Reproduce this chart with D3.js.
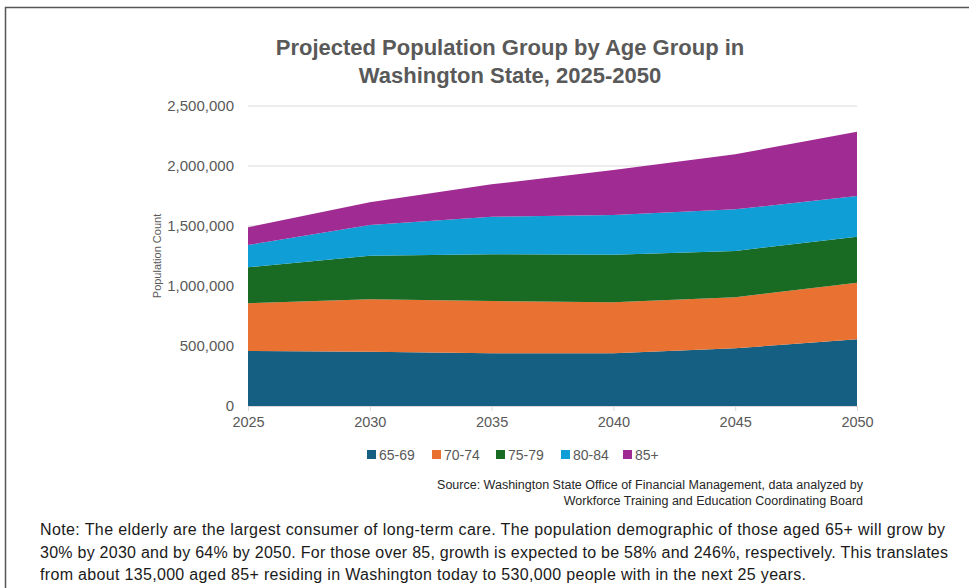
<!DOCTYPE html>
<html>
<head>
<meta charset="utf-8">
<script src="https://cdn.jsdelivr.net/npm/d3@7"></script>
<style>
  body { margin: 0; background: #fff; }
  text { font-family: "Liberation Sans", Arial, sans-serif; }
</style>
</head>
<body>
<div id="container"></div>
<script>
let w = 969;
let h = 588;

// data
let years = [2025, 2030, 2035, 2040, 2045, 2050];
let groups = ["65-69", "70-74", "75-79", "80-84", "85+"];
let age65to69 = [458000, 453000, 439000, 439000, 481000, 556000];
let age70to74 = [398000, 436000, 436000, 425000, 425000, 472000];
let age75to79 = [300000, 364000, 389000, 397000, 386000, 383000];
let age80to84 = [186000, 255000, 314000, 331000, 347000, 339000];
let age85plus = [147000, 189000, 269000, 375000, 458000, 536000];
let yTicks = [0, 500000, 1000000, 1500000, 2000000, 2500000];
let colors = ["#156082", "#e97132", "#196b24", "#0f9ed5", "#a02b93"];

let noteLines = [
  "Note: The elderly are the largest consumer of long-term care. The population demographic of those aged 65+ will grow by",
  "30% by 2030 and by 64% by 2050. For those over 85, growth is expected to be 58% and 246%, respectively. This translates",
  "from about 135,000 aged 85+ residing in Washington today to 530,000 people with in the next 25 years."
];
// widths the note lines take up in the picture
let noteWidths = [905, 908, 766];

// build table rows for the stack
let series = [age65to69, age70to74, age75to79, age80to84, age85plus];
let rows = years.map(function(yr, i){
  let row = {year: yr};
  groups.forEach(function(g, j){ row[g] = series[j][i]; });
  return row;
});

let viz = d3.select("#container")
  .append("svg")
    .attr("width", w)
    .attr("height", h)
    .style("display", "block")
;

// frame around the chart (only top + left visible in the crop)
viz.append("path")
  .attr("d", "M5.5," + h + " L5.5,7.5 L" + w + ",7.5")
  .attr("fill", "none")
  .attr("stroke", "#555")
  .attr("stroke-width", 1.5);

let xScale = d3.scaleLinear().domain([2025, 2050]).range([248, 857]);
let yScale = d3.scaleLinear().domain([0, 2500000]).range([406, 106]);

// gridlines
viz.append("g").selectAll("line").data(yTicks).enter().append("line")
  .attr("x1", 248).attr("x2", 857)
  .attr("y1", d => yScale(d)).attr("y2", d => yScale(d))
  .attr("stroke", "#d9d9d9").attr("stroke-width", 1);

// stacked areas
let stack = d3.stack().keys(groups);
let layers = stack(rows);
let area = d3.area()
  .x(d => xScale(d.data.year))
  .y0(d => yScale(d[0]))
  .y1(d => yScale(d[1]));

viz.append("g").selectAll("path").data(layers).enter().append("path")
  .attr("d", area)
  .attr("fill", (d, i) => colors[i]);

// x axis
let xAxis = d3.axisBottom(xScale).tickValues(years).tickFormat(d3.format("d")).tickSize(5).tickPadding(6);
let xAxisGroup = viz.append("g").attr("transform", "translate(0,406)").call(xAxis);
xAxisGroup.select(".domain").attr("stroke", "#d9d9d9");
xAxisGroup.selectAll(".tick line").attr("stroke", "#d9d9d9");
xAxisGroup.selectAll("text").attr("fill", "#595959").style("font-size", "14.5px");

// y axis
let yAxis = d3.axisLeft(yScale).tickValues(yTicks).tickFormat(d3.format(",")).tickSize(0).tickPadding(14);
let yAxisGroup = viz.append("g").attr("transform", "translate(248,0)").call(yAxis);
yAxisGroup.select(".domain").remove();
yAxisGroup.selectAll("text").attr("fill", "#595959").style("font-size", "15px");

// axis title
viz.append("text")
  .attr("transform", "translate(161,256) rotate(-90)")
  .attr("text-anchor", "middle")
  .attr("fill", "#595959")
  .style("font-size", "11px")
  .text("Population Count");

// title
let titleLines = ["Projected Population Group by Age Group in", "Washington State, 2025-2050"];
viz.append("g").selectAll("text").data(titleLines).enter().append("text")
  .attr("x", 510)
  .attr("y", (d, i) => 55 + i * 28)
  .attr("text-anchor", "middle")
  .attr("fill", "#595959")
  .style("font-size", "22px")
  .style("font-weight", "bold")
  .text(d => d);

// legend
let legendX = [367, 432, 496, 561, 623];
let legend = viz.append("g").selectAll("g").data(groups).enter().append("g")
  .attr("transform", (d, i) => "translate(" + legendX[i] + ",455)");
legend.append("rect")
  .attr("x", 0).attr("y", -5)
  .attr("width", 9).attr("height", 9)
  .attr("fill", (d, i) => colors[i]);
legend.append("text")
  .attr("x", 12).attr("y", 5)
  .attr("fill", "#595959")
  .style("font-size", "14px")
  .text(d => d);

// source
let sourceLines = ["Source: Washington State Office of Financial Management, data analyzed by",
  "Workforce Training and Education Coordinating Board"];
viz.append("g").selectAll("text").data(sourceLines).enter().append("text")
  .attr("x", 863)
  .attr("y", (d, i) => 489 + i * 16)
  .attr("text-anchor", "end")
  .attr("fill", "#262626")
  .style("font-size", "12.5px")
  .text(d => d);

// note
viz.append("g").selectAll("text").data(noteLines).enter().append("text")
  .attr("x", 40)
  .attr("y", (d, i) => 535 + i * 22.5)
  .attr("fill", "#1a1a1a")
  .style("font-size", "16px")
  .attr("textLength", (d, i) => noteWidths[i])
  .attr("lengthAdjust", "spacing")
  .text(d => d);
</script>
</body>
</html>
